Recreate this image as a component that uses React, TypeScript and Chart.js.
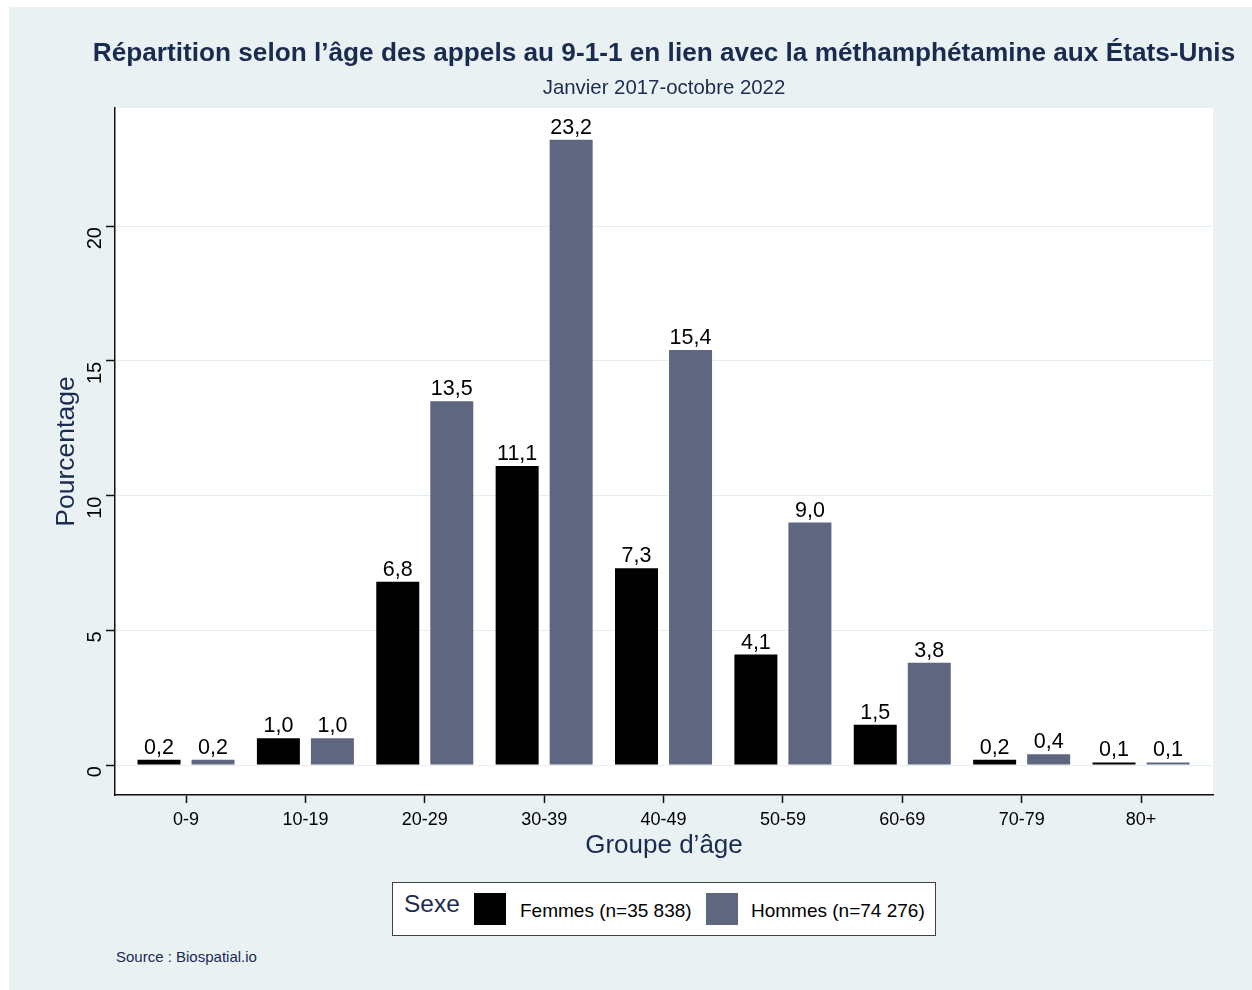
import React, { useEffect, useRef } from "react";
import { Chart, registerables } from "chart.js";

Chart.register(...registerables);

// ---- Data ----
const categories = ["0-9", "10-19", "20-29", "30-39", "40-49", "50-59", "60-69", "70-79", "80+"];
const femmes = [0.2, 1.0, 6.8, 11.1, 7.3, 4.1, 1.5, 0.2, 0.1];
const hommes = [0.2, 1.0, 13.5, 23.2, 15.4, 9.0, 3.8, 0.4, 0.1];
const yTicks = [0, 5, 10, 15, 20];
const seriesLabels = ["Femmes (n=35 838)", "Hommes (n=74 276)"];
const titleText = "Répartition selon l’âge des appels au 9-1-1 en lien avec la méthamphétamine aux États-Unis";
const subtitleText = "Janvier 2017-octobre 2022";
const xTitle = "Groupe d’âge";
const yTitle = "Pourcentage";
const legendTitle = "Sexe";
const sourceText = "Source : Biospatial.io";

// ---- Styles ----
const FONT = '"Liberation Sans", Arial, Helvetica, sans-serif';
const NAVY = "#1a2b50";
const PANEL = "#e9f1f3";
const BLACK_BAR = "#000000";
const GREY_BAR = "#5f6680";

const fmt = (v: number) => v.toFixed(1).replace(".", ",");

export default function App() {
  const canvasRef = useRef<HTMLCanvasElement | null>(null);

  useEffect(() => {
    const canvas = canvasRef.current;
    if (!canvas) return;

    const plotBg = {
      id: "plotBg",
      beforeDraw(chart: any) {
        const { ctx, chartArea } = chart;
        ctx.save();
        ctx.fillStyle = "#ffffff";
        ctx.fillRect(chartArea.left, chartArea.top, chartArea.right - chartArea.left, chartArea.bottom - chartArea.top);
        ctx.restore();
      },
    };

    const valueLabels = {
      id: "valueLabels",
      afterDatasetsDraw(chart: any) {
        const ctx = chart.ctx;
        ctx.save();
        ctx.font = `21.5px ${FONT}`;
        ctx.fillStyle = "#000";
        ctx.textAlign = "center";
        ctx.textBaseline = "alphabetic";
        chart.data.datasets.forEach((ds: any, di: number) => {
          const meta = chart.getDatasetMeta(di);
          meta.data.forEach((bar: any, i: number) => {
            ctx.fillText(fmt(ds.data[i].y), bar.x, bar.y - 6);
          });
        });
        ctx.restore();
      },
    };

    const rotatedYTicks = {
      id: "rotatedYTicks",
      afterDraw(chart: any) {
        const ctx = chart.ctx;
        const ys = chart.scales.y;
        ctx.save();
        ctx.font = `20px ${FONT}`;
        ctx.fillStyle = "#000";
        yTicks.forEach((v) => {
          const py = ys.getPixelForValue(v);
          ctx.save();
          ctx.translate(101, py + 1);
          ctx.rotate(-Math.PI / 2);
          ctx.textAlign = "right";
          ctx.textBaseline = "alphabetic";
          ctx.fillText(String(v), 0, 0);
          ctx.restore();
        });
        ctx.restore();
      },
    };

    const chart = new Chart(canvas, {
      type: "bar",
      data: {
        datasets: [
          {
            label: seriesLabels[0],
            data: femmes.map((v, i) => ({ x: i, y: v })),
            backgroundColor: BLACK_BAR,
            borderWidth: 0,
          },
          {
            label: seriesLabels[1],
            data: hommes.map((v, i) => ({ x: i, y: v })),
            backgroundColor: GREY_BAR,
            borderWidth: 0,
          },
        ],
      },
      options: {
        responsive: false,
        animation: false,
        devicePixelRatio: 1,
        events: [],
        layout: { padding: { left: 0, right: 39, top: 108, bottom: 0 } },
        datasets: {
          bar: { categoryPercentage: 0.905, barPercentage: 0.796 },
        },
        plugins: {
          legend: { display: false },
          title: { display: false },
          tooltip: { enabled: false },
        },
        scales: {
          x: {
            type: "linear",
            min: -0.595,
            max: 8.603,
            offset: false,
            afterFit(scale: any) {
              scale.height = 70;
            },
            ticks: {
              stepSize: 1,
              includeBounds: false,
              autoSkip: false,
              maxRotation: 0,
              minRotation: 0,
              padding: 6,
              color: "#000",
              font: { size: 18, family: FONT },
              callback: (value: any) => (Number.isInteger(value) ? categories[value] ?? "" : ""),
            },
            grid: {
              display: true,
              offset: false,
              drawOnChartArea: false,
              drawTicks: true,
              tickLength: 8,
              tickColor: "#111",
              tickWidth: 1.5,
            },
            border: { display: true, color: "#111", width: 1.5 },
            title: {
              display: true,
              text: xTitle,
              color: NAVY,
              font: { size: 26, family: FONT },
              padding: { top: 0, bottom: 4 },
            },
          },
          y: {
            type: "linear",
            min: -1.11,
            max: 24.38,
            afterFit(scale: any) {
              scale.width = 115;
            },
            ticks: {
              stepSize: 5,
              includeBounds: false,
              display: false,
            },
            grid: {
              display: true,
              color: "#e6eef0",
              lineWidth: 1,
              drawTicks: true,
              tickLength: 9,
              tickColor: "#111",
              tickWidth: 1.5,
            },
            border: { display: true, color: "#111", width: 1.5 },
            title: {
              display: true,
              text: yTitle,
              color: NAVY,
              font: { size: 26.5, family: FONT },
              padding: { top: 51, bottom: 0 },
            },
          },
        },
      },
      plugins: [plotBg, valueLabels, rotatedYTicks],
    } as any);

    return () => chart.destroy();
  }, []);

  const abs = (s: React.CSSProperties): React.CSSProperties => ({ position: "absolute", ...s });

  return (
    <div
      style={{
        position: "fixed",
        left: 0,
        top: 0,
        width: 1252,
        height: 990,
        overflow: "hidden",
        background: "#ffffff",
        fontFamily: FONT,
      }}
    >
      <div style={abs({ left: 9, top: 7, width: 1243, height: 983, background: PANEL })} />
      <canvas ref={canvasRef} width={1252} height={865} style={abs({ left: 0, top: 0, width: 1252, height: 865 })} />
      <div
        style={abs({
          left: 664,
          top: 39,
          transform: "translateX(-50%)",
          whiteSpace: "nowrap",
          fontWeight: "bold",
          fontSize: 26.2,
          lineHeight: "26px",
          color: NAVY,
        })}
      >
        {titleText}
      </div>
      <div
        style={abs({
          left: 664,
          top: 77,
          transform: "translateX(-50%)",
          whiteSpace: "nowrap",
          fontSize: 20.4,
          lineHeight: "20px",
          color: NAVY,
        })}
      >
        {subtitleText}
      </div>
      {/* Legend */}
      <div
        style={abs({
          left: 392,
          top: 882,
          width: 544,
          height: 54,
          boxSizing: "border-box",
          border: "1px solid #404040",
          background: "#ffffff",
        })}
      />
      <div style={abs({ left: 404, top: 892, fontSize: 24.5, lineHeight: "24px", color: NAVY, whiteSpace: "nowrap" })}>
        {legendTitle}
      </div>
      <div style={abs({ left: 474, top: 893, width: 32, height: 32, background: BLACK_BAR })} />
      <div style={abs({ left: 520, top: 901, fontSize: 19, lineHeight: "19px", color: "#000", whiteSpace: "nowrap" })}>
        {seriesLabels[0]}
      </div>
      <div style={abs({ left: 706, top: 893, width: 32, height: 32, background: GREY_BAR })} />
      <div style={abs({ left: 751, top: 901, fontSize: 19, lineHeight: "19px", color: "#000", whiteSpace: "nowrap" })}>
        {seriesLabels[1]}
      </div>
      <div style={abs({ left: 116, top: 949, fontSize: 15, lineHeight: "15px", color: NAVY, whiteSpace: "nowrap" })}>
        {sourceText}
      </div>
    </div>
  );
}
